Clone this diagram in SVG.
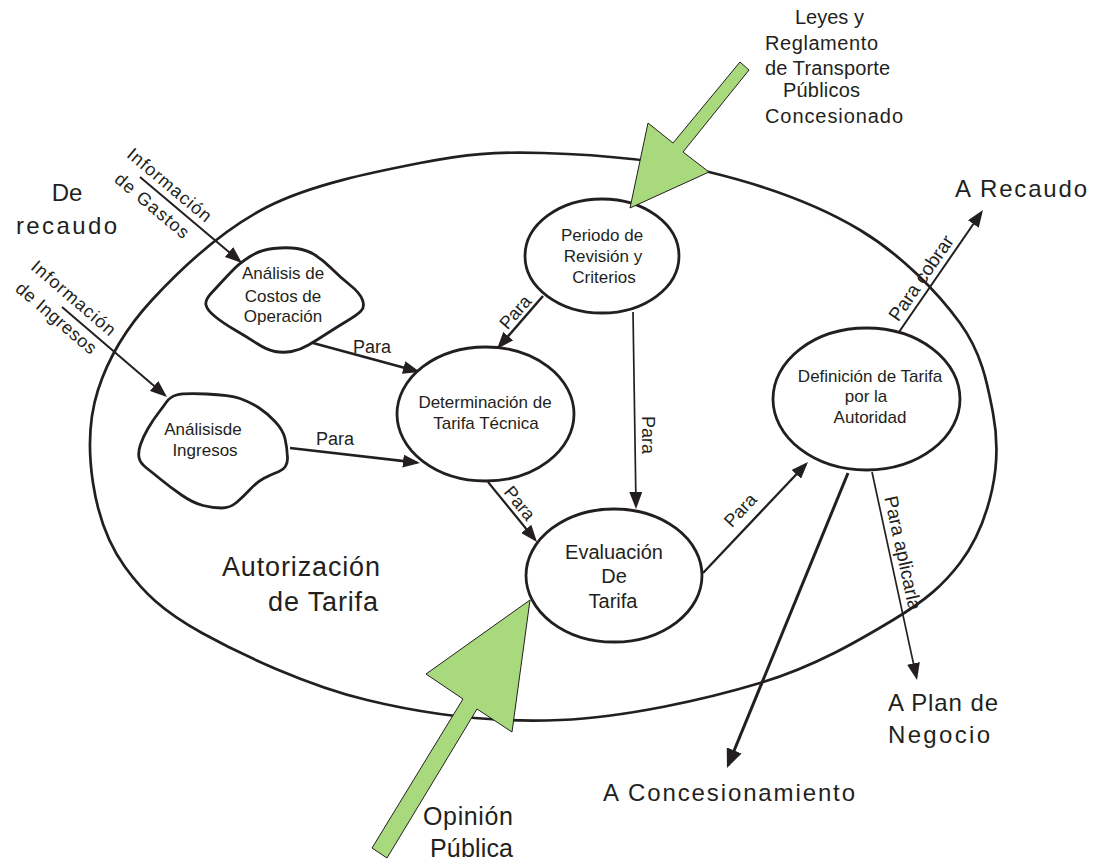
<svg xmlns="http://www.w3.org/2000/svg" width="1101" height="862" viewBox="0 0 1101 862">
<style>
.t{font-family:'Liberation Sans',Arial,sans-serif;fill:#231f20}
.nd{font-size:17px;text-anchor:middle}
.lab{font-size:18px;text-anchor:middle}
.big{font-size:24px}
.shape{fill:#fff;stroke:#231f20;stroke-width:2.8}
.outer{fill:none;stroke:#231f20;stroke-width:2.7}
.c{fill:none;stroke:#231f20;stroke-linecap:butt}
.green{fill:#a9d97d;stroke:#231f20;stroke-width:1}
</style>
<defs>
<marker id="ah" markerUnits="userSpaceOnUse" markerWidth="17" markerHeight="13" refX="14" refY="6.5" orient="auto"><path d="M0,0 L17,6.5 L0,13 z" fill="#231f20"/></marker>
<marker id="ahL" markerUnits="userSpaceOnUse" markerWidth="19" markerHeight="16" refX="16" refY="8" orient="auto"><path d="M0,0 L19,8 L0,16 z" fill="#231f20"/></marker>
</defs>
<rect width="1101" height="862" fill="#fff"/>

<g id="autorizacion">
<path class="outer" d="M543,153 C591.2,154.5 656.2,159.2 709,172 C761.8,184.8 818.2,204.8 860,230 C901.8,255.2 937.8,292.5 960,323 C982.2,353.5 987.7,385.2 993,413 C998.3,440.8 997.5,465 992,490 C986.5,515 976.5,541.3 960,563 C943.5,584.7 926.3,600 893,620 C859.7,640 815.5,666.3 760,683 C704.5,699.7 625.5,717.2 560,720 C494.5,722.8 426.7,714.5 367,700 C307.3,685.5 242.3,655.2 202,633 C161.7,610.8 143.2,592 125,567 C106.8,542 97.5,512.5 93,483 C88.5,453.5 88.2,420.5 98,390 C107.8,359.5 123.8,330.5 152,300 C180.2,269.5 222.3,229.8 267,207 C311.7,184.2 374,172 420,163 C466,154 494.8,151.5 543,153 Z"/>
<text class="t" font-size="27" x="222" y="576" textLength="158" lengthAdjust="spacing">Autorización</text>
<text class="t" font-size="27" x="268" y="611" textLength="110" lengthAdjust="spacing">de Tarifa</text>
</g>

<g id="connectors">
<line class="c" stroke-width="2" x1="140" y1="177" x2="239.7" y2="261.1" marker-end="url(#ah)"/>
<line class="c" stroke-width="2" x1="62" y1="307" x2="164.7" y2="395" marker-end="url(#ah)"/>
<line class="c" stroke-width="2.7" x1="313" y1="343" x2="417.1" y2="371.2" marker-end="url(#ah)"/>
<line class="c" stroke-width="2.7" x1="290" y1="448" x2="417" y2="462.7" marker-end="url(#ah)"/>
<line class="c" stroke-width="2.5" x1="543" y1="296" x2="499" y2="346.7" marker-end="url(#ah)"/>
<line class="c" stroke-width="1.7" x1="633" y1="312" x2="636" y2="506" marker-end="url(#ah)"/>
<line class="c" stroke-width="2.2" x1="488" y1="482" x2="535.1" y2="539.7" marker-end="url(#ah)"/>
<line class="c" stroke-width="2.3" x1="703" y1="573" x2="805.9" y2="464.2" marker-end="url(#ah)"/>
<line class="c" stroke-width="2" x1="899" y1="332" x2="981.3" y2="212.5" marker-end="url(#ah)"/>
<line class="c" stroke-width="1.7" x1="872" y1="472" x2="916.4" y2="677.1" marker-end="url(#ah)"/>
<line class="c" stroke-width="3" x1="848" y1="473" x2="728.1" y2="765.2" marker-end="url(#ahL)"/>

<g transform="translate(161,195) rotate(40)">
<text class="t" font-size="18" text-anchor="middle" x="0" y="-7" textLength="104" lengthAdjust="spacing">Información</text>
<text class="t" font-size="18" text-anchor="middle" x="0" y="20" textLength="91" lengthAdjust="spacing">de Gastos</text>
</g>
<g transform="translate(64,309) rotate(40.6)">
<text class="t" font-size="18" text-anchor="middle" x="0" y="-8.5" textLength="105" lengthAdjust="spacing">Información</text>
<text class="t" font-size="18" text-anchor="middle" x="0" y="18" textLength="100" lengthAdjust="spacing">de Ingresos</text>
</g>
<text class="t lab" x="372" y="353">Para</text>
<text class="t lab" x="335" y="445">Para</text>
<text class="t lab" transform="translate(515,312) rotate(-49)" x="0" y="6.5">Para</text>
<text class="t lab" transform="translate(648,435) rotate(90)" x="0" y="6.5">Para</text>
<text class="t lab" transform="translate(520,503) rotate(51)" x="0" y="6.5">Para</text>
<text class="t lab" transform="translate(740,510) rotate(-47)" x="0" y="6.5">Para</text>
<text class="t" font-size="19" text-anchor="middle" transform="translate(921,278) rotate(-55.5)" x="0" y="6.5">Para cobrar</text>
<text class="t" font-size="19" text-anchor="middle" transform="translate(903,553) rotate(77.8)" x="0" y="6.5">Para aplicarla</text>
</g>

<g id="costos">
<path class="shape" d="M250,256.5 Q260,250 273.5,248.5 Q287,247 297,248.5 Q307,250 315,255 Q323,260 331.5,268.5 Q340,277 350,285 Q360,293 362.5,300 Q365,307 361,311 Q357,315 347,321 Q337,327 327,333.5 Q317,340 308.5,345 Q300,350 291.5,351.5 Q283,353 275,351.5 Q267,350 257,343.5 Q247,337 235,330 Q223,323 215,316.5 Q207,310 206,305 Q205,300 211,293.5 Q217,287 223.5,280 Q230,273 235,268 Q240,263 250,256.5 Z"/>
<text class="t nd" x="283" y="279">Análisis de</text>
<text class="t nd" x="283" y="302">Costos de</text>
<text class="t nd" x="283" y="322">Operación</text>
</g>

<g id="ingresos">
<path class="shape" d="M176.5,395 Q183,393 206.5,394 Q230,395 240,398.5 Q250,402 258.5,407.5 Q267,413 275,421.5 Q283,430 285,438.5 Q287,447 287.5,457.5 Q288,468 279,471.5 Q270,475 263.5,478.5 Q257,482 250,489.5 Q243,497 236.5,502.5 Q230,508 221.5,508 Q213,508 203,505.5 Q193,503 181.5,495 Q170,487 161.5,480 Q153,473 146.5,468 Q140,463 139,457.5 Q138,452 140.5,444.5 Q143,437 148,428.5 Q153,420 158,413.5 Q163,407 166.5,402 Q170,397 176.5,395 Z"/>
<text class="t nd" x="203" y="435">Análisisde</text>
<text class="t nd" x="205" y="456">Ingresos</text>
</g>

<g id="periodo">
<ellipse class="shape" cx="602" cy="256" rx="77" ry="57"/>
<text class="t nd" x="602" y="241">Periodo de</text>
<text class="t nd" x="603" y="262">Revisión y</text>
<text class="t nd" x="604" y="283">Criterios</text>
</g>

<g id="determinacion">
<ellipse class="shape" cx="485.5" cy="414" rx="88.5" ry="67"/>
<text class="t nd" x="485" y="408">Determinación de</text>
<text class="t nd" x="486" y="429">Tarifa Técnica</text>
</g>

<g id="evaluacion">
<ellipse class="shape" cx="614" cy="575.5" rx="88" ry="66.5"/>
<text class="t" font-size="20" text-anchor="middle" x="614" y="559">Evaluación</text>
<text class="t" font-size="20" text-anchor="middle" x="614" y="583">De</text>
<text class="t" font-size="20" text-anchor="middle" x="613" y="608">Tarifa</text>
</g>

<g id="definicion">
<ellipse class="shape" cx="866.5" cy="399" rx="93.5" ry="71"/>
<text class="t nd" x="870" y="382">Definición de Tarifa</text>
<text class="t nd" x="866" y="402">por la</text>
<text class="t nd" x="870" y="423">Autoridad</text>
</g>

<g id="leyes">
<polygon class="green" points="740,62 673,143 648,123 630,208 709,172 683,152 749,70"/>
<text class="t" font-size="20" x="795" y="24">Leyes y</text>
<text class="t" font-size="20" x="765" y="50" textLength="113" lengthAdjust="spacing">Reglamento</text>
<text class="t" font-size="20" x="765" y="75" textLength="125" lengthAdjust="spacing">de Transporte</text>
<text class="t" font-size="20" x="783" y="97" textLength="77" lengthAdjust="spacing">Públicos</text>
<text class="t" font-size="20" x="765" y="123" textLength="138" lengthAdjust="spacing">Concesionado</text>
</g>

<g id="opinion">
<polygon class="green" points="372,848 463,699 426,674 530,600 512,732 477,709 387,858"/>
<text class="t" font-size="25" x="423" y="825" textLength="90" lengthAdjust="spacing">Opinión</text>
<text class="t" font-size="25" x="430" y="857" textLength="83" lengthAdjust="spacing">Pública</text>
</g>

<g id="recaudo-origen">
<text class="t big" text-anchor="middle" x="67" y="201">De</text>
<text class="t big" x="16" y="234" textLength="101" lengthAdjust="spacing">recaudo</text>
</g>

<g id="a-recaudo">
<text class="t big" x="955" y="197" textLength="132" lengthAdjust="spacing">A Recaudo</text>
</g>

<g id="a-plan">
<text class="t big" x="888" y="711" textLength="110" lengthAdjust="spacing">A Plan de</text>
<text class="t big" x="888" y="743" textLength="102" lengthAdjust="spacing">Negocio</text>
</g>

<g id="a-concesionamiento">
<text class="t big" x="603" y="801" textLength="252" lengthAdjust="spacing">A Concesionamiento</text>
</g>
</svg>
